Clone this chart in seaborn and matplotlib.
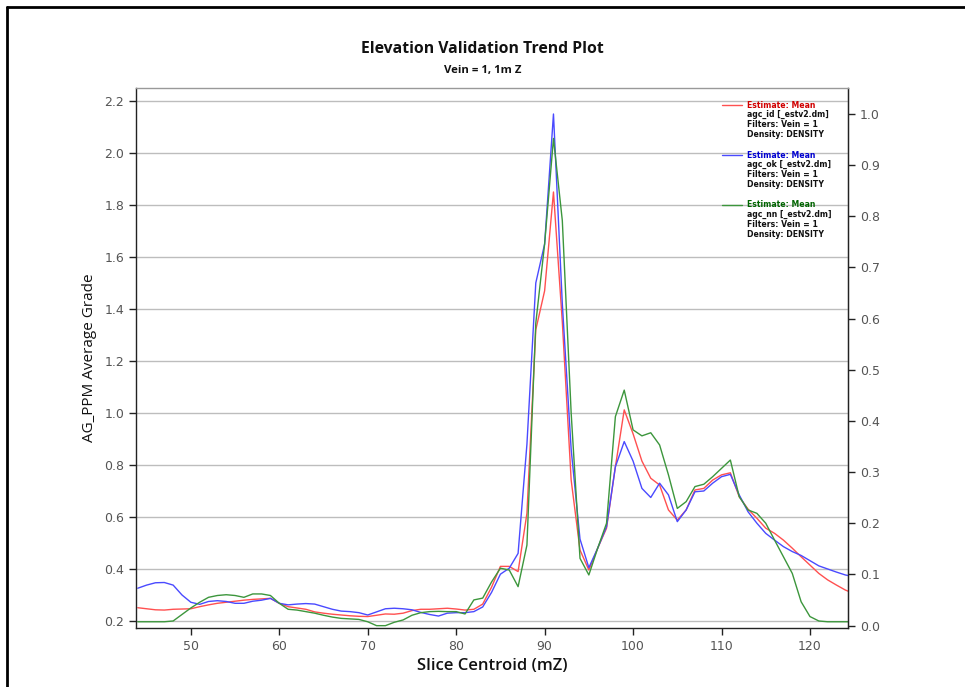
import numpy as np
import pandas as pd
import matplotlib
matplotlib.use("Agg")
import matplotlib.pyplot as plt
from matplotlib.lines import Line2D
import seaborn as sns

# ---- data (slice centroid, 1 m steps) ----
slice_z = list(range(44, 126))

agc_id = [0.251, 0.247, 0.243, 0.242, 0.245, 0.246, 0.247, 0.255, 0.262, 0.268,
          0.272, 0.276, 0.280, 0.283, 0.285, 0.287, 0.268, 0.255, 0.250, 0.245,
          0.235, 0.230, 0.226, 0.223, 0.220, 0.218, 0.217, 0.222, 0.227, 0.226,
          0.230, 0.240, 0.245, 0.245, 0.247, 0.249, 0.246, 0.242, 0.245, 0.265,
          0.330, 0.410, 0.410, 0.390, 0.614, 1.320, 1.470, 1.850, 1.350, 0.742,
          0.473, 0.396, 0.480, 0.557, 0.793, 1.012, 0.920, 0.815, 0.749, 0.723,
          0.627, 0.588, 0.627, 0.704, 0.710, 0.742, 0.762, 0.770, 0.678, 0.630,
          0.595, 0.557, 0.537, 0.511, 0.480, 0.447, 0.415, 0.383, 0.358, 0.338,
          0.319, 0.305]

agc_ok = [0.326, 0.338, 0.347, 0.348, 0.338, 0.300, 0.272, 0.264, 0.275, 0.278,
          0.275, 0.268, 0.268, 0.276, 0.280, 0.287, 0.268, 0.262, 0.265, 0.267,
          0.265, 0.255, 0.245, 0.238, 0.236, 0.232, 0.223, 0.235, 0.247, 0.249,
          0.247, 0.243, 0.233, 0.225, 0.219, 0.230, 0.232, 0.232, 0.236, 0.254,
          0.310, 0.380, 0.403, 0.460, 0.880, 1.500, 1.650, 2.150, 1.420, 0.860,
          0.515, 0.405, 0.480, 0.563, 0.793, 0.890, 0.815, 0.710, 0.675, 0.730,
          0.685, 0.582, 0.627, 0.697, 0.700, 0.730, 0.755, 0.764, 0.685, 0.620,
          0.576, 0.537, 0.511, 0.486, 0.467, 0.452, 0.432, 0.412, 0.400, 0.388,
          0.377, 0.370]

agc_nn = [0.197, 0.197, 0.197, 0.197, 0.200, 0.225, 0.250, 0.272, 0.291, 0.298,
          0.301, 0.298, 0.291, 0.304, 0.304, 0.298, 0.268, 0.245, 0.242, 0.236,
          0.230, 0.222, 0.215, 0.210, 0.208, 0.206, 0.197, 0.182, 0.182, 0.195,
          0.204, 0.222, 0.232, 0.236, 0.237, 0.236, 0.236, 0.227, 0.281, 0.288,
          0.350, 0.403, 0.396, 0.332, 0.492, 1.345, 1.650, 2.056, 1.740, 1.000,
          0.441, 0.377, 0.480, 0.576, 0.986, 1.088, 0.935, 0.912, 0.924, 0.877,
          0.762, 0.633, 0.659, 0.717, 0.726, 0.755, 0.787, 0.819, 0.678, 0.627,
          0.614, 0.576, 0.511, 0.447, 0.383, 0.274, 0.217, 0.200, 0.197, 0.197,
          0.197, 0.197]

series_names = ["agc_id [_estv2.dm]", "agc_ok [_estv2.dm]", "agc_nn [_estv2.dm]"]
line_colors = ["#ff5050", "#4a4aff", "#3c963c"]
text_colors = ["#d00000", "#0000d0", "#006400"]

df = pd.DataFrame({
    "z": slice_z * 3,
    "grade": agc_id + agc_ok + agc_nn,
    "series": np.repeat(series_names, len(slice_z)),
})

# ---- plot ----
sns.set_style("white")
plt.rcParams["font.family"] = ["DejaVu Sans"]

fig = plt.figure(figsize=(9.65, 6.87), dpi=100)
ax = fig.add_axes([136 / 965, 1 - 628 / 687, (848 - 136) / 965, (628 - 88) / 687])

sns.lineplot(data=df, x="z", y="grade", hue="series", palette=line_colors,
             linewidth=1.0, ax=ax, legend=False)

ax.set_xlim(43.8, 124.3)
ax.set_ylim(0.173, 2.25)
ax.set_xticks(range(50, 121, 10))
ax.set_yticks(np.round(np.arange(0.2, 2.21, 0.2), 1))
ax.yaxis.grid(True, color="#bdbdbd", linewidth=1.0)
ax.xaxis.grid(False)
ax.set_axisbelow(True)

for s in ["left", "bottom", "right"]:
    ax.spines[s].set_color("#222222")
    ax.spines[s].set_linewidth(1.0)
ax.spines["top"].set_color("#999999")
ax.spines["top"].set_linewidth(1.0)
ax.tick_params(axis="both", direction="out", length=5, width=1, color="#222222",
               labelsize=9, labelcolor="#555555", left=True, bottom=True)

ax.set_xlabel("Slice Centroid (mZ)", fontsize=12, family="Open Sans",
              fontweight="semibold", labelpad=4, color="#111111")
ax.set_ylabel("AG_PPM Average Grade", fontsize=11, family="Open Sans", labelpad=5,
              color="#111111")

# right axis: min-max normalised grade
all_vals = agc_id + agc_ok + agc_nn
lo, hi = min(all_vals), max(all_vals)
sec = ax.secondary_yaxis("right", functions=(lambda v: (v - lo) / (hi - lo),
                                             lambda r: r * (hi - lo) + lo))
sec.set_yticks(np.round(np.arange(0.0, 1.01, 0.1), 1))
sec.tick_params(direction="out", length=5, width=1, color="#222222",
                labelsize=9, labelcolor="#555555")
sec.spines["right"].set_color("#222222")

# titles
fig.text(0.5, 1 - 49 / 687, "Elevation Validation Trend Plot", ha="center", va="center",
         fontsize=11.3, fontweight="bold", family="Open Sans", color="#111111")
fig.text(0.5, 1 - 71 / 687, "Vein = 1, 1m Z", ha="center", va="center",
         fontsize=8.2, fontweight="bold", family="Open Sans", color="#111111")

# legend block (upper right, inside)
lx0, lx1, tx = (722 - 136) / 712, (742 - 136) / 712, (747 - 136) / 712
for i, (name, lc, tc) in enumerate(zip(series_names, line_colors, text_colors)):
    ytop = 105 + i * 50
    yy = 1 - (ytop - 88) / 540
    ax.add_line(Line2D([lx0, lx1], [yy, yy], transform=ax.transAxes, color=lc, lw=1.0))
    ax.text(tx, yy, "Estimate: Mean", transform=ax.transAxes, color=tc, fontsize=5.6,
            fontweight="bold", va="center", ha="left", family="DejaVu Sans")
    for j, line in enumerate([name, "Filters: Vein = 1", "Density: DENSITY"]):
        yl = 1 - (ytop + 9.7 * (j + 1) - 88) / 540
        ax.text(tx, yl, line, transform=ax.transAxes, color="#111111", fontsize=5.6,
                fontweight="bold", va="center", ha="left", family="DejaVu Sans")

# frame lines of the report page
fig.add_artist(Line2D([7 / 965, 1.0], [1 - 7 / 687, 1 - 7 / 687], transform=fig.transFigure,
                      color="black", lw=2))
fig.add_artist(Line2D([7 / 965, 7 / 965], [0, 1 - 7 / 687], transform=fig.transFigure,
                      color="black", lw=2))

fig.savefig("out.png", dpi=100, facecolor="white")
